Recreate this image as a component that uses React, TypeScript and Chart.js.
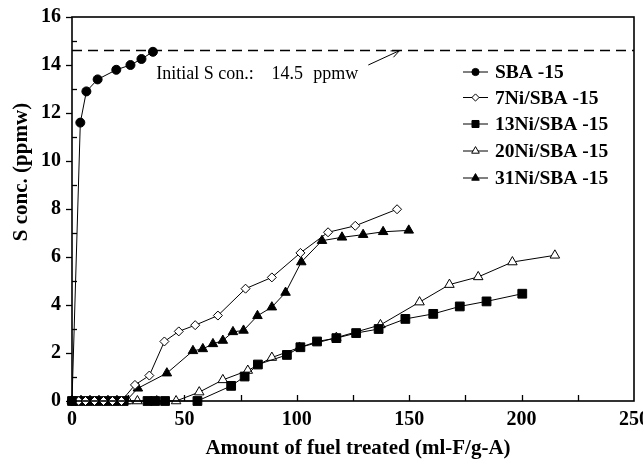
import React, { useEffect, useRef } from "react";
import { Chart, registerables } from "chart.js";

Chart.register(...registerables);

// ---------- data ----------
const X_MIN = 0;
const X_MAX = 250;
const X_STEP = 50;
const X_MINOR = 25;
const Y_MIN = 0;
const Y_MAX = 16;
const Y_STEP = 2;
const Y_MINOR = 1;

const initialS = 14.6;
const initialLabel = "Initial S con.:";
const initialValue = "14.5";
const initialUnit = "ppmw";

const seriesNames = ["SBA -15", "7Ni/SBA -15", "13Ni/SBA -15", "20Ni/SBA -15", "31Ni/SBA -15"];

const sbaX = [0, 3.7, 6.4, 11.4, 19.7, 26, 30.9, 36];
const sbaY = [0, 11.6, 12.9, 13.4, 13.8, 14.0, 14.25, 14.55];

const ni7X = [0, 3, 6, 10, 14, 18, 22, 28, 34.4, 41.1, 47.5, 54.8, 64.9, 77.2, 88.9, 101.6, 113.9, 126, 144.6];
const ni7Y = [0, 0, 0, 0, 0, 0, 0, 0.67, 1.06, 2.48, 2.9, 3.16, 3.56, 4.68, 5.15, 6.17, 7.03, 7.3, 7.99];

const ni13X = [0, 3, 7, 11, 15, 19, 23, 33.6, 37, 41.4, 55.8, 70.8, 76.8, 82.7, 95.6, 101.6, 109, 117.6, 126.4, 136.4, 148.3, 160.7, 172.5, 184.4, 200.3];
const ni13Y = [0, 0, 0, 0, 0, 0, 0, 0, 0, 0, 0, 0.63, 1.02, 1.52, 1.92, 2.24, 2.48, 2.62, 2.83, 3.0, 3.42, 3.63, 3.94, 4.15, 4.47];

const ni20X = [0, 4, 8, 12, 16, 20, 25, 29.1, 37.7, 46.3, 56.6, 67.1, 78.2, 88.9, 101.2, 117.6, 137.2, 154.6, 167.9, 180.7, 195.9, 214.8];
const ni20Y = [0, 0, 0, 0, 0, 0, 0, 0, 0, 0, 0.37, 0.88, 1.27, 1.81, 2.23, 2.64, 3.17, 4.12, 4.85, 5.17, 5.79, 6.07];

const ni31X = [0, 4, 8, 12, 16, 20, 24, 29.3, 42.2, 53.8, 58.2, 62.7, 67.1, 71.6, 76.3, 82.5, 88.9, 95, 102, 111.2, 120.1, 129.5, 138.4, 149.8];
const ni31Y = [0, 0, 0, 0, 0, 0, 0, 0.53, 1.16, 2.09, 2.17, 2.38, 2.52, 2.88, 2.94, 3.55, 3.91, 4.52, 5.79, 6.68, 6.82, 6.93, 7.05, 7.11];

// ---------- styling ----------
const FONT = '"Liberation Serif", "Times New Roman", serif';

type Marker = { style: string; radius: number; fill: string };
const markers: Marker[] = [
  { style: "circle", radius: 4.5, fill: "#000" },
  { style: "rectRot", radius: 4.5, fill: "#fff" },
  { style: "rect", radius: 6.2, fill: "#000" },
  { style: "triangle", radius: 5.5, fill: "#fff" },
  { style: "triangle", radius: 5.5, fill: "#000" },
];

const toPts = (xs: number[], ys: number[]) => xs.map((x, i) => ({ x, y: ys[i] }));
const seriesData = [toPts(sbaX, sbaY), toPts(ni7X, ni7Y), toPts(ni13X, ni13Y), toPts(ni20X, ni20Y), toPts(ni31X, ni31Y)];

function drawMarker(ctx: CanvasRenderingContext2D, m: Marker, x: number, y: number, r: number) {
  ctx.beginPath();
  if (m.style === "circle") {
    ctx.arc(x, y, r, 0, Math.PI * 2);
  } else if (m.style === "rectRot") {
    ctx.moveTo(x - r, y);
    ctx.lineTo(x, y - r);
    ctx.lineTo(x + r, y);
    ctx.lineTo(x, y + r);
    ctx.closePath();
  } else if (m.style === "rect") {
    const s = Math.SQRT1_2 * r;
    ctx.rect(x - s, y - s, 2 * s, 2 * s);
  } else {
    const a = (2 * Math.PI) / 3;
    ctx.moveTo(x, y - r);
    ctx.lineTo(x + Math.sin(a) * r, y - Math.cos(a) * r);
    ctx.lineTo(x + Math.sin(2 * a) * r, y - Math.cos(2 * a) * r);
    ctx.closePath();
  }
  ctx.fillStyle = m.fill;
  ctx.fill();
  ctx.lineWidth = 1;
  ctx.strokeStyle = "#000";
  ctx.stroke();
}

const decorPlugin = {
  id: "decor",
  afterDraw(chart: any) {
    const { ctx, chartArea: a, scales } = chart;
    const xs = scales.x;
    const ys = scales.y;
    ctx.save();
    // frame
    ctx.strokeStyle = "#000";
    ctx.lineWidth = 1.6;
    ctx.strokeRect(a.left, a.top, a.right - a.left, a.bottom - a.top);
    // y ticks
    ctx.lineWidth = 1.3;
    for (let v = Y_MIN; v <= Y_MAX; v += Y_MINOR) {
      const py = Math.round(ys.getPixelForValue(v)) + 0.5;
      ctx.beginPath();
      if (v % Y_STEP === 0) {
        ctx.moveTo(a.left - 6, py);
        ctx.lineTo(a.left, py);
      } else {
        ctx.moveTo(a.left, py);
        ctx.lineTo(a.left + 5, py);
      }
      ctx.stroke();
    }
    // x ticks
    for (let v = X_MIN + X_MINOR; v < X_MAX; v += X_MINOR) {
      const px = Math.round(xs.getPixelForValue(v)) + 0.5;
      ctx.beginPath();
      ctx.moveTo(px, a.bottom);
      ctx.lineTo(px, a.bottom - 6);
      ctx.stroke();
    }

    // axis titles
    ctx.fillStyle = "#000";
    ctx.font = `bold 21px ${FONT}`;
    ctx.textAlign = "center";
    ctx.textBaseline = "middle";
    ctx.fillText("Amount of fuel treated (ml-F/g-A)", 358, 449);
    ctx.save();
    ctx.translate(22, 172);
    ctx.rotate(-Math.PI / 2);
    ctx.fillText("S conc. (ppmw)", 0, 0);
    ctx.restore();

    // annotation
    ctx.font = `18px ${FONT}`;
    ctx.textAlign = "left";
    const ty = ys.getPixelForValue(13.6);
    ctx.fillText(initialLabel, xs.getPixelForValue(37.5), ty);
    ctx.fillText(initialValue, xs.getPixelForValue(88.8), ty);
    ctx.fillText(initialUnit, xs.getPixelForValue(107.3), ty);
    const x1 = xs.getPixelForValue(131.8);
    const y1 = ys.getPixelForValue(14.0);
    const x2 = xs.getPixelForValue(145.7);
    const y2 = ys.getPixelForValue(initialS);
    ctx.lineWidth = 1;
    ctx.beginPath();
    ctx.moveTo(x1, y1);
    ctx.lineTo(x2, y2);
    const ang = Math.atan2(y2 - y1, x2 - x1);
    const hl = 9;
    ctx.moveTo(x2 - hl * Math.cos(ang - 0.4), y2 - hl * Math.sin(ang - 0.4));
    ctx.lineTo(x2, y2);
    ctx.lineTo(x2 - hl * Math.cos(ang + 0.4), y2 - hl * Math.sin(ang + 0.4));
    ctx.stroke();

    // legend
    const lx = 463;
    const rows = [72, 97.5, 124, 151, 178];
    ctx.font = `bold 19.5px ${FONT}`;
    seriesNames.forEach((name, i) => {
      const ry = rows[i];
      ctx.lineWidth = 1;
      ctx.strokeStyle = "#000";
      ctx.beginPath();
      ctx.moveTo(lx, ry);
      ctx.lineTo(lx + 25, ry);
      ctx.stroke();
      const m = markers[i];
      drawMarker(ctx, m, lx + 12.5, ry, m.radius * 0.8);
      ctx.fillStyle = "#000";
      ctx.textAlign = "left";
      ctx.textBaseline = "middle";
      ctx.fillText(name, lx + 32, ry + 1);
    });
    ctx.restore();
  },
};

export default function App() {
  const ref = useRef<HTMLCanvasElement>(null);
  useEffect(() => {
    const canvas = ref.current!;
    const datasets: any[] = seriesData.map((d, i) => ({
      label: seriesNames[i],
      data: d,
      borderColor: "#000",
      borderWidth: 1,
      backgroundColor: markers[i].fill,
      pointBackgroundColor: markers[i].fill,
      pointBorderColor: "#000",
      pointBorderWidth: 1,
      pointStyle: markers[i].style,
      pointRadius: markers[i].radius,
      tension: 0,
      clip: false,
    }));
    datasets.push({
      label: "initial",
      data: [
        { x: X_MIN, y: initialS },
        { x: X_MAX, y: initialS },
      ],
      borderColor: "#000",
      borderWidth: 1.5,
      borderDash: [10, 6],
      pointRadius: 0,
      clip: false,
    });
    const chart = new Chart(canvas, {
      type: "line",
      data: { datasets },
      options: {
        animation: false,
        responsive: false,
        events: [],
        layout: { padding: { top: 17, right: 9, left: 0, bottom: 0 } },
        plugins: { legend: { display: false }, tooltip: { enabled: false } },
        scales: {
          x: {
            type: "linear",
            min: X_MIN,
            max: X_MAX,
            grid: { display: false, drawTicks: false },
            border: { display: false },
            ticks: {
              stepSize: X_STEP,
              padding: 7,
              color: "#000",
              font: { family: FONT, size: 20, weight: "bold" },
            },
            afterFit: (s: any) => {
              s.height = 65;
              s.paddingLeft = 0;
              s.paddingRight = 0;
            },
          },
          y: {
            type: "linear",
            min: Y_MIN,
            max: Y_MAX,
            grid: { display: false, drawTicks: false },
            border: { display: false },
            ticks: {
              stepSize: Y_STEP,
              padding: 11,
              color: "#000",
              font: { family: FONT, size: 20, weight: "bold" },
            },
            afterFit: (s: any) => {
              s.width = 72;
              s.paddingTop = 0;
              s.paddingBottom = 0;
            },
          },
        },
      },
      plugins: [decorPlugin],
    } as any);
    return () => chart.destroy();
  }, []);
  return (
    <canvas
      ref={ref}
      width={643}
      height={466}
      style={{ position: "absolute", left: 0, top: 0, display: "block", width: 643, height: 466 }}
    />
  );
}
